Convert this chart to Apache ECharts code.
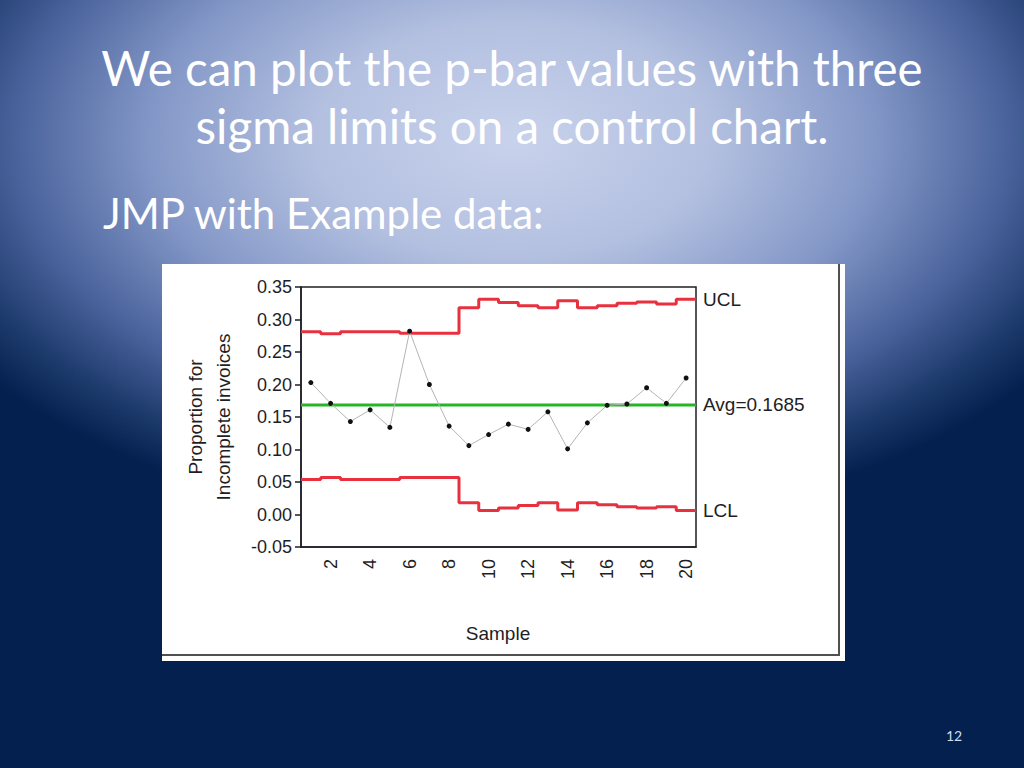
<!DOCTYPE html>
<html>
<head>
<meta charset="utf-8">
<title>p chart</title>
<script src="https://cdn.jsdelivr.net/npm/echarts@6/dist/echarts.min.js"></script>
<style>
  html, body { margin: 0; padding: 0; }
  #slide {
    width: 1024px;
    height: 768px;
    background: #03204f radial-gradient(ellipse 660px 390px at 512px 140px,
      #c8d2ec 0%, #b3c0e0 30%, #8397c7 55%, #4a639c 75%, #1c396b 90%, #03204f 100%);
  }
</style>
</head>
<body>
<div id="slide"></div>
<script>
// sample numbers and proportions
var sampleNo = [1, 2, 3, 4, 5, 6, 7, 8, 9, 10, 11, 12, 13, 14, 15, 16, 17, 18, 19, 20];
var pValues = [0.203, 0.171, 0.143, 0.161, 0.134, 0.282, 0.200, 0.136, 0.106, 0.123,
               0.139, 0.131, 0.158, 0.101, 0.141, 0.168, 0.170, 0.195, 0.171, 0.210];
var uclValues = [0.281, 0.278, 0.281, 0.281, 0.281, 0.279, 0.279, 0.279, 0.318, 0.331,
                 0.326, 0.321, 0.318, 0.329, 0.318, 0.321, 0.325, 0.327, 0.324, 0.331];
var lclValues = [0.054, 0.057, 0.054, 0.054, 0.054, 0.057, 0.057, 0.057, 0.018, 0.006,
                 0.010, 0.014, 0.018, 0.007, 0.018, 0.015, 0.012, 0.010, 0.012, 0.006];
var pBar = 0.1685;
var yTicks = [-0.05, 0.00, 0.05, 0.10, 0.15, 0.20, 0.25, 0.30, 0.35];

var chartFont = '"Liberation Sans", Arial, sans-serif';
var inkColor = '#1e1e24';

// limits change per sample, so draw them as steps across each sample's slot
function stepData(values) {
    var out = [];
    values.forEach(function (v, i) {
        out.push([sampleNo[i] - 0.5, v]);
    });
    out.push([sampleNo[sampleNo.length - 1] + 0.5, values[values.length - 1]]);
    return out;
}

var pointData = pValues.map(function (v, i) { return [sampleNo[i], v]; });
var avgData = [[sampleNo[0] - 0.5, pBar], [sampleNo[sampleNo.length - 1] + 0.5, pBar]];
var categoryLabels = sampleNo.map(String);

function isEven(index) { return (index + 1) % 2 === 0; }

var dom = document.getElementById('slide');
var chart = echarts.init(dom, null, { renderer: 'svg' });

var option = {
    animation: false,
    backgroundColor: 'transparent',
    graphic: [
        // white picture frame of the pasted JMP output
        { type: 'rect', z: -10, shape: { x: 162, y: 264, width: 683, height: 397 }, style: { fill: '#ffffff' } },
        { type: 'line', z: -9, shape: { x1: 839, y1: 264, x2: 839, y2: 655 }, style: { stroke: '#505050', lineWidth: 2 } },
        { type: 'line', z: -9, shape: { x1: 162, y1: 655, x2: 840, y2: 655 }, style: { stroke: '#505050', lineWidth: 2 } },
        // slide text
        { type: 'text', style: { text: 'We can plot the p-bar values with three', x: 512, y: 67, align: 'center', verticalAlign: 'middle', font: '47.5px Lato', fill: '#ffffff' } },
        { type: 'text', style: { text: 'sigma limits on a control chart.', x: 512, y: 125, align: 'center', verticalAlign: 'middle', font: '47.5px Lato', fill: '#ffffff' } },
        { type: 'text', style: { text: 'JMP with Example data:', x: 103, y: 213, align: 'left', verticalAlign: 'middle', font: '42px Lato', fill: '#ffffff' } },
        { type: 'text', style: { text: '12', x: 954, y: 735, align: 'center', verticalAlign: 'middle', font: '14px Lato', fill: '#d4dbea' } },
        // y axis title, two lines, rotated
        { type: 'text', x: 209, y: 417, rotation: Math.PI / 2,
          style: { text: 'Proportion for\nIncomplete invoices', align: 'center', verticalAlign: 'middle',
                   font: '19px ' + chartFont, lineHeight: 28, fill: inkColor } },
        { type: 'text', style: { text: 'Sample', x: 498, y: 633, align: 'center', verticalAlign: 'middle', font: '19px ' + chartFont, fill: inkColor } }
    ],
    grid: {
        left: 301,
        top: 287,
        width: 395,
        height: 260,
        show: true,
        borderColor: inkColor,
        borderWidth: 1.5,
        backgroundColor: 'transparent'
    },
    xAxis: [
        {
            type: 'value',
            min: sampleNo[0] - 0.5,
            max: sampleNo[sampleNo.length - 1] + 0.5,
            show: false
        },
        {
            type: 'category',
            data: categoryLabels,
            position: 'bottom',
            boundaryGap: true,
            axisLine: { show: true, lineStyle: { color: inkColor, width: 1.5 } },
            axisTick: { alignWithLabel: true, interval: isEven, length: 10, lineStyle: { color: inkColor, width: 1.5 } },
            axisLabel: { interval: isEven, rotate: 90, margin: 12, fontSize: 18, color: inkColor, fontFamily: chartFont },
            splitLine: { show: false }
        },
        {
            type: 'category',
            data: categoryLabels,
            position: 'bottom',
            boundaryGap: true,
            axisLine: { show: false },
            axisTick: { alignWithLabel: true, interval: 0, length: 6, lineStyle: { color: inkColor, width: 1.5 } },
            axisLabel: { show: false },
            splitLine: { show: false }
        }
    ],
    yAxis: {
        type: 'value',
        min: yTicks[0],
        max: yTicks[yTicks.length - 1],
        interval: 0.05,
        axisLine: { show: true, lineStyle: { color: inkColor, width: 1.5 } },
        axisTick: { show: true, length: 6, lineStyle: { color: inkColor, width: 1.5 } },
        axisLabel: {
            margin: 9,
            fontSize: 18,
            color: inkColor,
            fontFamily: chartFont,
            formatter: function (v) { return v.toFixed(2); }
        },
        splitLine: { show: false }
    },
    series: [
        {
            name: 'UCL',
            type: 'line',
            xAxisIndex: 0,
            step: 'end',
            data: stepData(uclValues),
            showSymbol: false,
            lineStyle: { color: '#e8303f', width: 3 },
            endLabel: { show: true, formatter: 'UCL', distance: 7, fontSize: 19, color: inkColor, fontFamily: chartFont }
        },
        {
            name: 'LCL',
            type: 'line',
            xAxisIndex: 0,
            step: 'end',
            data: stepData(lclValues),
            showSymbol: false,
            lineStyle: { color: '#e8303f', width: 3 },
            endLabel: { show: true, formatter: 'LCL', distance: 7, fontSize: 19, color: inkColor, fontFamily: chartFont }
        },
        {
            name: 'Avg',
            type: 'line',
            xAxisIndex: 0,
            data: avgData,
            showSymbol: false,
            lineStyle: { color: '#25b526', width: 3 },
            endLabel: { show: true, formatter: 'Avg=' + pBar, distance: 7, fontSize: 19, color: inkColor, fontFamily: chartFont }
        },
        {
            name: 'Proportion',
            type: 'line',
            xAxisIndex: 0,
            data: pointData,
            symbol: 'circle',
            symbolSize: 5,
            itemStyle: { color: '#111111' },
            lineStyle: { color: '#b4b4b4', width: 1 },
            z: 5
        }
    ]
};

chart.setOption(option);

window.onresize = function () {
    chart.resize();
};
</script>
</body>
</html>
